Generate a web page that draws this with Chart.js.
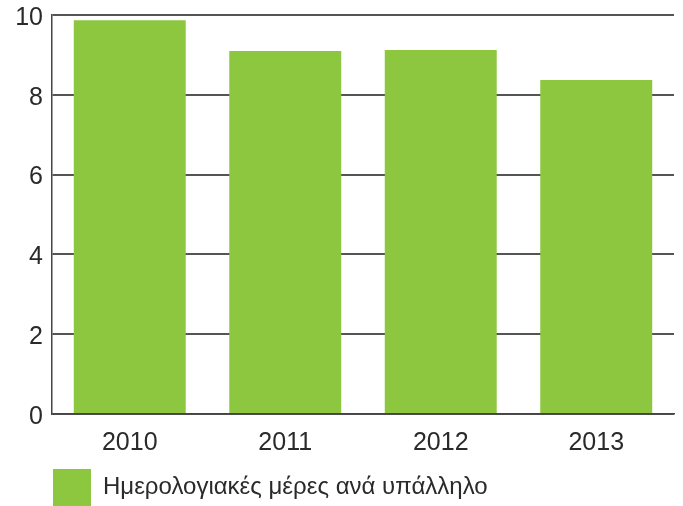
<!DOCTYPE html>
<html>
<head>
<meta charset="utf-8">
<script src="https://cdn.jsdelivr.net/npm/chart.js@4"></script>
<style>
  html, body { margin: 0; padding: 0; background: #fff; }
  #wrap { width: 683px; height: 506px; }
</style>
</head>
<body>
<div id="wrap"><canvas id="chart" width="683" height="506"></canvas></div>
<script>
// chart data
const years = ['2010', '2011', '2012', '2013'];
const daysPerEmployee = [9.87, 9.1, 9.12, 8.37];
const seriesLabel = 'Ημερολογιακές μέρες ανά υπάλληλο';
const yTicks = [0, 2, 4, 6, 8, 10];

const barColor = '#8dc63f';
const textColor = '#2a2a2a';
const fontFamily = '"Liberation Sans", Arial, sans-serif';

// move the legend under the plot, lined up with the y axis
const legendShift = {
    id: 'legendShift',
    afterLayout(chart) {
        const lg = chart.legend;
        if (!lg) return;
        lg.left += 53; lg.right += 53;
        lg.top += 10; lg.bottom += 10;
    }
};

new Chart(document.getElementById('chart'), {
    type: 'bar',
    data: {
        labels: years,
        datasets: [{
            label: seriesLabel,
            data: daysPerEmployee,
            backgroundColor: barColor,
            borderWidth: 0,
            categoryPercentage: 1,
            barPercentage: 0.72
        }]
    },
    options: {
        responsive: false,
        animation: false,
        layout: { padding: { top: 15, right: 9, left: 0, bottom: 0 } },
        plugins: {
            tooltip: { enabled: false },
            legend: {
                position: 'bottom',
                align: 'start',
                labels: {
                    boxWidth: 38,
                    boxHeight: 37,
                    padding: 0,
                    color: textColor,
                    font: { family: fontFamily, size: 24 }
                }
            }
        },
        scales: {
            x: {
                grid: { display: false },
                border: { display: true, color: '#444', width: 1.5 },
                ticks: {
                    color: textColor,
                    padding: 6,
                    font: { family: fontFamily, size: 25 }
                },
                afterFit(scale) { scale.height = 45; }
            },
            y: {
                min: 0,
                max: 10,
                afterBuildTicks(scale) {
                    scale.ticks = yTicks.map(v => ({ value: v }));
                },
                grid: { color: '#555', lineWidth: 2, drawTicks: false },
                border: { display: true, color: '#444', width: 1.5 },
                ticks: {
                    color: textColor,
                    padding: 9,
                    labelOffset: 3,
                    font: { family: fontFamily, size: 25 }
                },
                afterFit(scale) {
                    scale.width = 52;
                    scale.paddingTop = 0;
                    scale.paddingBottom = 0;
                }
            }
        }
    },
    plugins: [legendShift]
});
</script>
</body>
</html>
